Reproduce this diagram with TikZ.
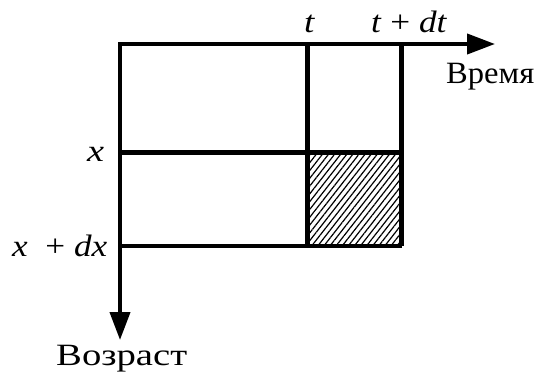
\documentclass[tikz,border=0pt]{standalone}
\usepackage{fontspec}
\usepackage{graphicx}
\setmainfont{Liberation Serif}
\usetikzlibrary{patterns.meta,arrows.meta}
\newcommand\lblsize{\fontsize{31pt}{35pt}\selectfont}
\newcommand\wbox[2]{\resizebox{#1}{\height}{#2}}
\begin{document}
\begin{tikzpicture}[x=1pt,y=-1pt,
  axis/.style={line width=4pt,-{Triangle[length=28pt,width=20pt]}},
  grid/.style={line width=4.5pt},
  lbl/.style={font=\lblsize, inner sep=0pt}]
\useasboundingbox (0,0) rectangle (537,372);
\coordinate (O) at (120,44);
\coordinate (T1) at (307.5,44);
\coordinate (T2) at (401.5,44);
\coordinate (X1) at (120,152.5);
\coordinate (X2) at (120,246);
\coordinate (TE) at (495,44);
\coordinate (XE) at (120,340);
\fill[pattern={Lines[angle=52,distance=4.8pt,line width=1.2pt]}] (307.5,152.5) rectangle (401.5,246);
\draw[grid] (T1) -- (307.5,246);
\draw[grid] (T2) -- (401.5,246);
\draw[grid] (X1) -- (401.5,152.5);
\draw[grid] (X2) -- (401.5,246);
\draw[axis] (118,44) -- (TE);
\draw[axis] (O) -- (XE);
\node[lbl, anchor=base west] (lt) at (304,32) {\wbox{11pt}{\textit{t}}};
\node[lbl, anchor=base west] (ltdt) at (371,32) {\wbox{76pt}{\textit{t} + \textit{dt}}};
\node[lbl, anchor=base west] (lv) at (446,83) {\wbox{88pt}{Время}};
\node[lbl, anchor=base west] (lx) at (87,161) {\wbox{17pt}{\textit{x}}};
\node[lbl, anchor=base west] (lxdx) at (12,256) {\wbox{95pt}{\textit{x}\ \ + \textit{dx}}};
\node[lbl, anchor=base west] (la) at (56,365) {\wbox{131pt}{Возраст}};
\end{tikzpicture}
\end{document}
